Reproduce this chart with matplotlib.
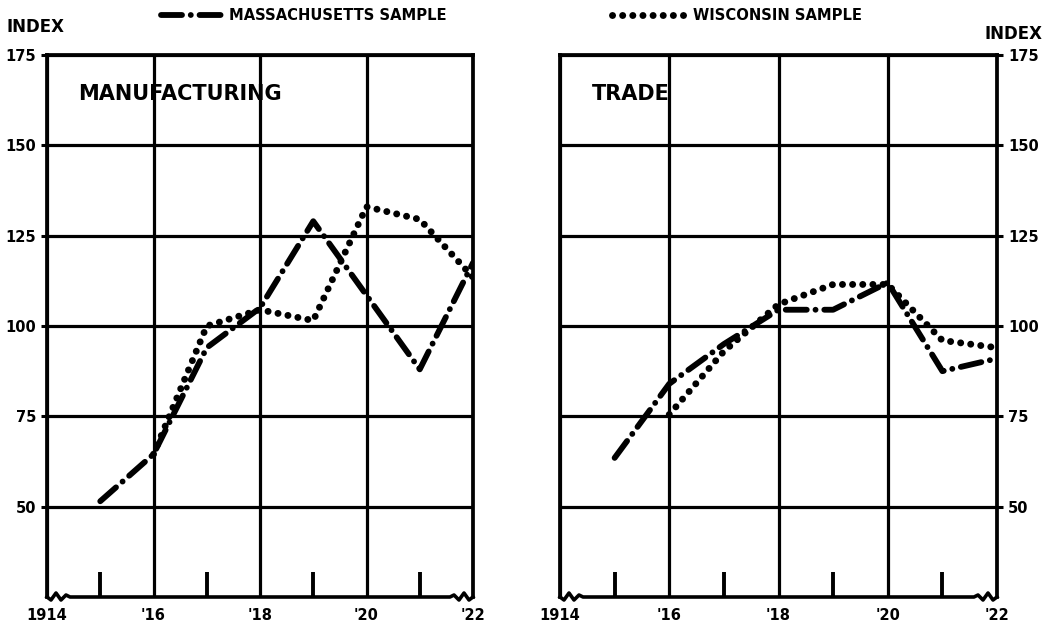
import matplotlib.pyplot as plt

# index values (1914 = base period)
years = [1915, 1916, 1917, 1918, 1919, 1920, 1921, 1922]
mass_mfg = [51.5, 64.5, 94, 105, 129, 108.5, 88, 117.5]
mass_trade = [63.5, 84, 95, 104.5, 104.5, 112, 87.5, 91]

wisc_years = [1916, 1917, 1918, 1919, 1920, 1921, 1922]
wisc_mfg = [64.5, 100, 104.5, 101.5, 133, 129.5, 113.5]
wisc_trade = [75.5, 93, 106, 111.5, 111.5, 96, 94]

major_years = [1914, 1916, 1918, 1920, 1922]
minor_years = [1915, 1917, 1919, 1921]
x_labels = ["1914", "'16", "'18", "'20", "'22"]
y_ticks = [50, 75, 100, 125, 150, 175]

plt.rcParams['font.family'] = ['DejaVu Sans']
plt.rcParams['font.weight'] = 'bold'

W, H = 1049, 635
fig = plt.figure(figsize=(W / 100, H / 100), dpi=100)
ax1 = fig.add_axes([47 / W, 38 / H, 426 / W, 542 / H])
ax2 = fig.add_axes([560 / W, 38 / H, 437 / W, 542 / H])

mass_style = dict(color='black', lw=4.2, dashes=(3.6, 1.5, 0.01, 1.5),
                  dash_capstyle='round', zorder=3)
wisc_style = dict(color='black', lw=5.0, dashes=(0.01, 1.45),
                  dash_capstyle='round', zorder=4)


def squiggle(ax, w_px, h_px):
    # bottom axis line with a break mark at each end
    pts = [(0, 0), (4, -3), (9, 4), (14, -3), (19, 2), (23, 0)]
    xs = [p[0] / w_px for p in pts]
    ys = [p[1] / h_px for p in pts]
    xs2 = [1 - p[0] / w_px for p in pts]
    ax.plot(xs + xs2[::-1], ys + ys[::-1], color='black', lw=2.6,
            transform=ax.transAxes, clip_on=False, zorder=5,
            solid_joinstyle='round')


def setup(ax, w_px, right=False):
    ax.set_xlim(1914, 1922)
    ax.set_ylim(25, 175)
    ax.set_xticks(major_years)
    ax.set_xticklabels(x_labels)
    ax.set_xticks(minor_years, minor=True)
    ax.set_yticks(y_ticks)
    ax.grid(True, which='major', color='black', lw=2.3)
    ax.set_axisbelow(True)
    ax.tick_params(axis='x', which='major', length=0, pad=8, labelsize=10.5)
    ax.tick_params(axis='x', which='minor', direction='in', length=18,
                   width=2.8, color='black')
    ax.tick_params(axis='y', direction='out', length=4, width=2.2, pad=4,
                   labelsize=10.5)
    if right:
        ax.yaxis.tick_right()
    for s in ax.spines.values():
        s.set_linewidth(2.7)
    ax.spines['bottom'].set_visible(False)
    squiggle(ax, w_px, 542)


setup(ax1, 426)
setup(ax2, 437, right=True)

l1, = ax1.plot(years, mass_mfg, **mass_style)
l2, = ax1.plot(wisc_years, wisc_mfg, **wisc_style)
ax2.plot(years, mass_trade, **mass_style)
ax2.plot(wisc_years, wisc_trade, **wisc_style)

ax1.text(0.074, 0.928, 'MANUFACTURING', transform=ax1.transAxes,
         fontsize=15, fontweight='bold', va='center')
ax2.text(0.072, 0.928, 'TRADE', transform=ax2.transAxes,
         fontsize=15, fontweight='bold', va='center')

fig.text(7 / W, 1 - 27 / H, 'INDEX', fontsize=12, fontweight='bold',
         va='center', ha='left')
fig.text(1043 / W, 1 - 34 / H, 'INDEX', fontsize=12, fontweight='bold',
         va='center', ha='right')

leg_font = dict(weight='bold', size=10.6)
ax1.legend([l1], ['MASSACHUSETTS SAMPLE'], loc='center',
           bbox_to_anchor=(304 / W, 1 - 16 / H), bbox_transform=fig.transFigure,
           frameon=False, handlelength=4.3, handletextpad=0.3, prop=leg_font,
           borderpad=0)
ax2.legend([l2], ['WISCONSIN SAMPLE'], loc='center',
           bbox_to_anchor=(737 / W, 1 - 16 / H), bbox_transform=fig.transFigure,
           frameon=False, handlelength=5.0, handletextpad=0.5, prop=leg_font,
           borderpad=0)

fig.savefig('out.png', dpi=100)
